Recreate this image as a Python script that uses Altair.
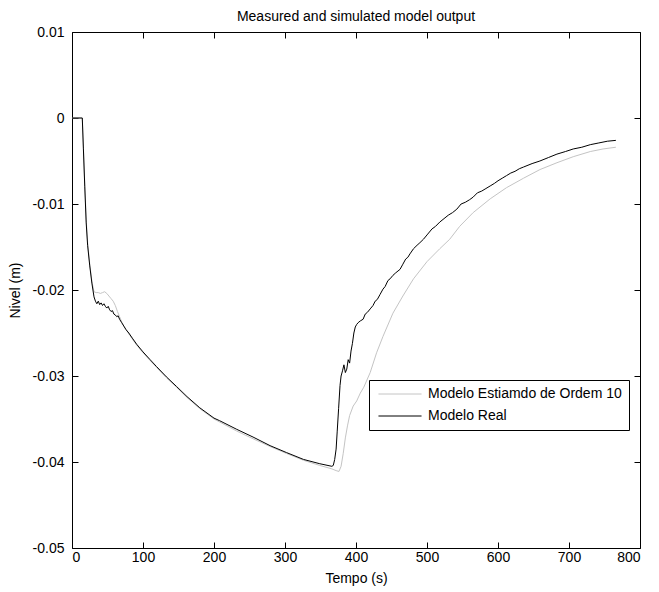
import altair as alt
import pandas as pd

# Real (measured) level response
t_real = [0, 14.5, 16, 18, 20, 22, 25, 28, 31, 33, 35, 37, 39, 41, 43, 45, 47, 49, 51, 53,
          55, 57, 59, 61, 63, 65, 67, 70, 73, 76, 80, 85, 91, 100, 110, 119, 133, 147, 162,
          180, 200, 208, 232, 255, 279, 302, 326, 349, 366, 368, 370, 372, 373.5, 375.5,
          377.5, 379, 381, 383, 385, 387, 389, 391, 393, 395, 397, 399, 401, 403, 406, 410,
          413, 416, 420, 424, 427, 430, 434, 438, 441, 445, 448, 452, 456, 462, 466, 470,
          473, 476, 481, 486, 490, 495, 501, 507, 512, 518, 524, 530, 536, 542, 548, 554,
          560, 565, 571, 577, 583, 589, 595, 600, 606, 612, 618, 624, 630, 636, 648, 659,
          671, 683, 695, 706, 718, 730, 742, 754, 766]
nivel_real = [0, 0, -0.0035, -0.0080, -0.0122, -0.0148, -0.0172, -0.0192, -0.0208, -0.0213,
              -0.0216, -0.0213, -0.0217, -0.0215, -0.0218, -0.0216, -0.0219, -0.0221, -0.0219,
              -0.0223, -0.0225, -0.0224, -0.0228, -0.0229, -0.0231, -0.0230, -0.0234, -0.0238,
              -0.0242, -0.0246, -0.0250, -0.0256, -0.0263, -0.0272, -0.0281, -0.0289, -0.0301,
              -0.0312, -0.0324, -0.0337, -0.0349, -0.0352, -0.0362, -0.0371, -0.0381, -0.0389,
              -0.0397, -0.0402, -0.0405, -0.0404, -0.0397, -0.0385, -0.0365, -0.0338, -0.0311,
              -0.0300, -0.0294, -0.0287, -0.0296, -0.0292, -0.0281, -0.0285, -0.0271, -0.0262,
              -0.0250, -0.0243, -0.0240, -0.0238, -0.0236, -0.0234, -0.0228, -0.0226, -0.0222,
              -0.0218, -0.0213, -0.0211, -0.0205, -0.0199, -0.0196, -0.0189, -0.0187, -0.0183,
              -0.0180, -0.0176, -0.0170, -0.0164, -0.0162, -0.0158, -0.0152, -0.0148, -0.0145,
              -0.0141, -0.0135, -0.0129, -0.0126, -0.0121, -0.0117, -0.0113, -0.0110, -0.0106,
              -0.0100, -0.0098, -0.0095, -0.0092, -0.0087, -0.0085, -0.0082, -0.0079, -0.0076,
              -0.0073, -0.0070, -0.0067, -0.0064, -0.0062, -0.0059, -0.0057, -0.0053, -0.0050,
              -0.0046, -0.0042, -0.0039, -0.0036, -0.0034, -0.0031, -0.0029, -0.0027, -0.0026]

# Estimated 10th-order model response
t_est = [0, 14.5, 16, 18, 20, 22, 25, 28, 31, 34, 37, 40, 43, 46, 49, 52, 55, 58, 61, 64,
         67, 70, 73, 76, 80, 85, 91, 100, 110, 119, 133, 147, 162, 180, 200, 232, 255, 279,
         302, 326, 349, 366, 372, 376, 379, 382, 385, 388, 391, 396, 401, 406, 411, 420,
         429, 438, 452, 466, 481, 500, 518, 532, 546, 565, 589, 612, 636, 659, 683, 706,
         730, 748, 766]
nivel_est = [0, 0, -0.0033, -0.0077, -0.0118, -0.0145, -0.0170, -0.0190, -0.0202, -0.0203,
             -0.0203, -0.0204, -0.0203, -0.0202, -0.0204, -0.0207, -0.0210, -0.0213, -0.0218,
             -0.0225, -0.0231, -0.0237, -0.0242, -0.0246, -0.0251, -0.0257, -0.0264, -0.0273,
             -0.0282, -0.0290, -0.0302, -0.0313, -0.0325, -0.0338, -0.0350, -0.0364, -0.0373,
             -0.0382, -0.0390, -0.0398, -0.0404, -0.0408, -0.0410, -0.0411, -0.0405, -0.0390,
             -0.0372, -0.0358, -0.0346, -0.0335, -0.0329, -0.0320, -0.0313, -0.0296, -0.0273,
             -0.0254, -0.0227, -0.0207, -0.0187, -0.0167, -0.0152, -0.0141, -0.0126, -0.0110,
             -0.0094, -0.0081, -0.0070, -0.0060, -0.0052, -0.0045, -0.0039, -0.0036, -0.0034]

serie_names = ["Modelo Estiamdo de Ordem 10", "Modelo Real"]
serie_colors = ["#c4c4c4", "#000000"]
x_ticks = [0, 100, 200, 300, 400, 500, 600, 700, 800]
y_ticks = [-0.05, -0.04, -0.03, -0.02, -0.01, 0, 0.01]

df = pd.concat([
    pd.DataFrame({"t": t_est, "nivel": nivel_est, "serie": serie_names[0], "ordem": 0}),
    pd.DataFrame({"t": t_real, "nivel": nivel_real, "serie": serie_names[1], "ordem": 1}),
])

FONT = "Liberation Sans"
TICK = 6

x_scale = alt.Scale(domain=[0, 800], nice=False, zero=False)
y_scale = alt.Scale(domain=[-0.05, 0.01], nice=False, zero=False)
color = alt.Color(
    "serie:N",
    scale=alt.Scale(domain=serie_names, range=serie_colors),
    legend=alt.Legend(
        title=None,
        orient="none",
        legendX=297,
        legendY=348,
        direction="vertical",
        strokeColor="#000000",
        fillColor="#ffffff",
        padding=7,
        # long horizontal stroke as the line sample
        symbolType="M-4,0H4",
        symbolSize=116,
        symbolStrokeWidth=1,
        symbolOffset=17,
        labelFont=FONT,
        labelFontSize=14,
        labelColor="#000000",
        labelOffset=21,
        labelLimit=400,
        rowPadding=8,
    ),
)

y_label_expr = ("datum.value == 0 ? '0' : (datum.value < 0 ? '-' : '') + "
                "format(abs(datum.value), '.2f')")

base = alt.Chart(df)

est_line = base.transform_filter(alt.datum.ordem == 0).mark_line(
    strokeWidth=1, clip=True
).encode(
    x=alt.X("t:Q", scale=x_scale,
            axis=alt.Axis(orient="bottom", values=x_ticks, format="d", title="Tempo (s)",
                          titlePadding=7)),
    y=alt.Y("nivel:Q", scale=y_scale,
            axis=alt.Axis(orient="left", values=y_ticks, labelExpr=y_label_expr,
                          title="Nivel (m)", titlePadding=10)),
    color=color,
)

real_line = base.transform_filter(alt.datum.ordem == 1).mark_line(
    strokeWidth=1, clip=True
).encode(
    x=alt.X("t:Q", scale=x_scale,
            axis=alt.Axis(orient="top", values=x_ticks, labels=False, title=None)),
    y=alt.Y("nivel:Q", scale=y_scale,
            axis=alt.Axis(orient="right", values=y_ticks, labels=False, title=None)),
    color=color,
)

chart = alt.layer(est_line, real_line).resolve_axis(
    x="independent", y="independent"
).properties(
    width=568,
    height=516,
    title=alt.TitleParams(
        "Measured and simulated model output",
        font=FONT, fontSize=14, fontWeight="normal", color="#000000",
        anchor="middle", baseline="alphabetic", offset=10, dy=20,
    ),
    autosize=alt.AutoSizeParams(type="none"),
    padding={"left": 72, "top": 32, "right": 19, "bottom": 44},
).configure_view(
    stroke="#000000", strokeWidth=1
).configure_axis(
    grid=False,
    domain=False,
    ticks=True,
    tickColor="#000000",
    tickSize=TICK,
    tickWidth=1,
    offset=-TICK,
    labelFont=FONT,
    labelFontSize=14,
    labelColor="#000000",
    labelPadding=8,
    titleFont=FONT,
    titleFontSize=14,
    titleFontWeight="normal",
    titleColor="#000000",
).configure_axisBottom(
    labelPadding=2,
)

chart.save("out.html", embed_options={"renderer": "svg", "actions": False})
